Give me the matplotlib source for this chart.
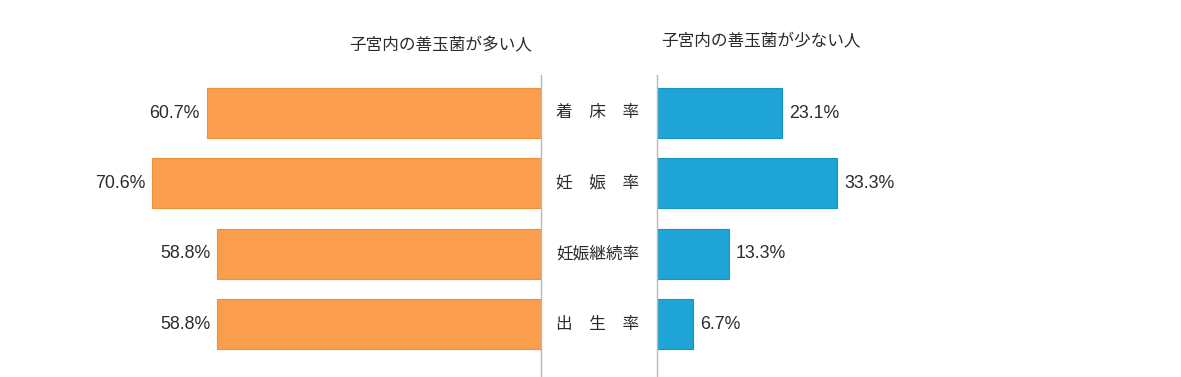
import matplotlib
matplotlib.use("Agg")
import matplotlib.pyplot as plt

plt.rcParams['font.family'] = ['Noto Sans CJK JP', 'DejaVu Sans']

categories = ["着\u3000床\u3000率", "妊\u3000娠\u3000率", "妊娠継続率", "出\u3000生\u3000率"]
many_values = [60.7, 70.6, 58.8, 58.8]
few_values = [23.1, 33.3, 13.3, 6.7]
title_many = "子宮内の善玉菌が多い人"
title_few = "子宮内の善玉菌が少ない人"

W, H = 1181, 377
fig = plt.figure(figsize=(W / 100, H / 100), dpi=100)

orange = "#FA9D4C"
orange_edge = "#EE8F3C"
blue = "#1EA4D7"
blue_edge = "#1893C4"
text_c = "#2b2b2b"
line_c = "#b8b8b8"
num_font = ['Liberation Sans', 'DejaVu Sans']
num_size = 12.8
cjk_size = 12

# pixel geometry
top_px, bot_px = 75, 377
pitch = 70.4
first_center = 113
bar_h = 50 / pitch
ylim_top = -(first_center - top_px) / pitch
ylim_bot = 3 + (bot_px - (first_center + 3 * pitch)) / pitch

def fig_rect(x0, x1):
    return [x0 / W, 1 - bot_px / H, (x1 - x0) / W, (bot_px - top_px) / H]

# left axes
lx0, lx1 = 100, 541
axL = fig.add_axes(fig_rect(lx0, lx1))
axL.barh(range(len(categories)), many_values, height=bar_h, color=orange,
         edgecolor=orange_edge, linewidth=0.8)
axL.set_xlim((lx1 - lx0) / 5.51, 0)
axL.set_ylim(ylim_bot, ylim_top)
for i, v in enumerate(many_values):
    axL.annotate(f"{v:.1f}%", (v, i), xytext=(-5, 0), textcoords="offset points",
                 ha="right", va="center", fontsize=num_size, color=text_c,
                 family=num_font)
for s in ["top", "bottom", "left"]:
    axL.spines[s].set_visible(False)
axL.spines["right"].set_color(line_c)
axL.spines["right"].set_linewidth(1)
axL.set_xticks([])
axL.set_yticks([])
axL.patch.set_alpha(0)

# right axes
rx0, rx1 = 657, 1150
axR = fig.add_axes(fig_rect(rx0, rx1))
axR.barh(range(len(categories)), few_values, height=bar_h, color=blue,
         edgecolor=blue_edge, linewidth=0.8)
axR.set_xlim(0, (rx1 - rx0) / 5.41)
axR.set_ylim(ylim_bot, ylim_top)
for i, v in enumerate(few_values):
    axR.annotate(f"{v:.1f}%", (v, i), xytext=(5, 0), textcoords="offset points",
                 ha="left", va="center", fontsize=num_size, color=text_c,
                 family=num_font)
for s in ["top", "bottom", "right"]:
    axR.spines[s].set_visible(False)
axR.spines["left"].set_color(line_c)
axR.spines["left"].set_linewidth(1)
axR.set_xticks([])
axR.set_yticks([])
axR.patch.set_alpha(0)

# category labels in the middle
for i, c in enumerate(categories):
    y = first_center + i * pitch
    fig.text(597.5 / W, 1 - y / H, c, ha="center", va="center",
             fontsize=cjk_size, color=text_c)

fig.text(441 / W, 1 - 46 / H, title_many, ha="center", va="center",
         fontsize=cjk_size, color=text_c)
fig.text(761 / W, 1 - 42 / H, title_few, ha="center", va="center",
         fontsize=cjk_size, color=text_c)

fig.savefig("out.png", dpi=100, facecolor="white")
